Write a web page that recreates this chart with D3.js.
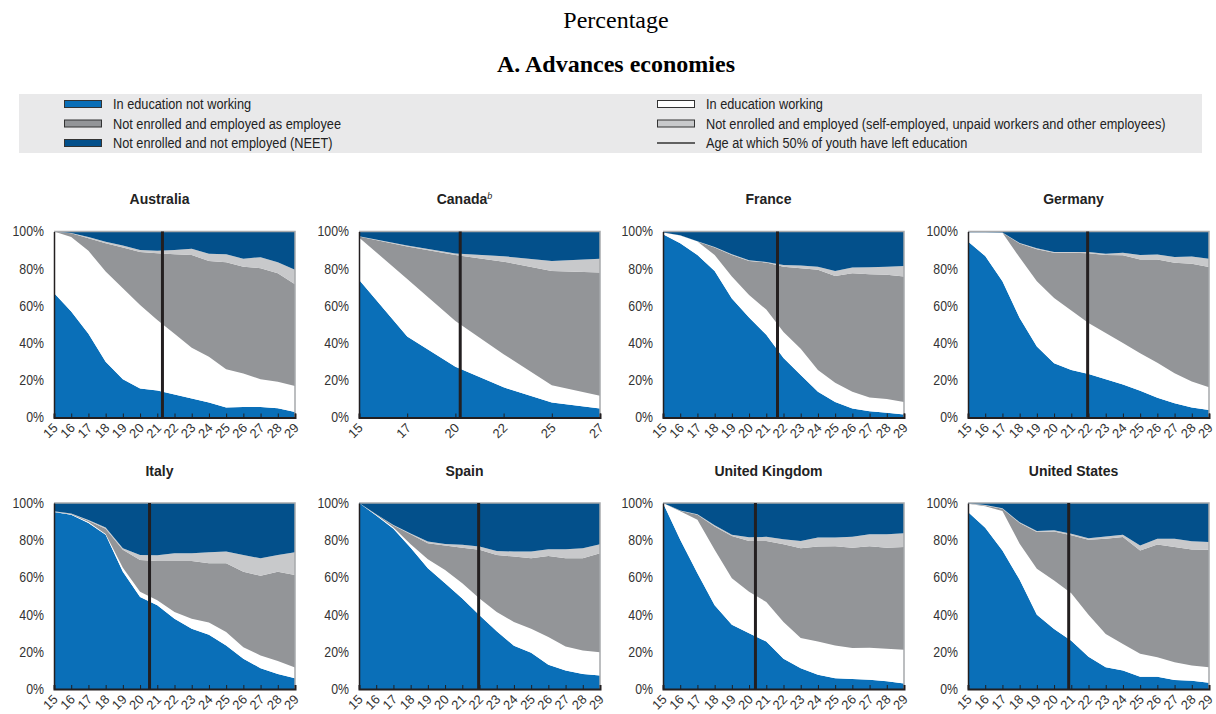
<!DOCTYPE html>
<html>
<head>
<meta charset="utf-8">
<script src="https://cdn.jsdelivr.net/npm/d3@7"></script>
<style>
  body { margin: 0; background: #fff; }
  svg { display: block; }
</style>
</head>
<body>
<div id="chart"></div>
<script>
// Ages shown on the x axis (Canada only has six age points)
const agesFull = [15, 16, 17, 18, 19, 20, 21, 22, 23, 24, 25, 26, 27, 28, 29];
const agesCanada = [15, 17, 20, 22, 25, 27];

const countries = ['Australia', 'Canada', 'France', 'Germany', 'Italy', 'Spain', 'United Kingdom', 'United States'];

// Age at which 50% of youth have left education
const halfLeftAge = [21.3, 20.2, 21.65, 21.95, 20.55, 21.95, 20.37, 20.85];

// Shares (%) by status, one row per country in the order above
const eduNotWorking = [
    [67, 57, 45, 30, 20.5, 15.6, 14.5, 12.4, 10.2, 8, 5.4, 5.7, 5.6, 5, 3],
    [74, 43.6, 27.3, 16.2, 8, 4.8],
    [98.5, 93.7, 87.4, 78.8, 64, 53.7, 44.5, 32, 22.8, 13.8, 8.4, 4.8, 3.4, 2.5, 1.6],
    [94.6, 86.8, 73.3, 53.5, 38.2, 29.2, 25.6, 23.4, 20.5, 17.8, 14.4, 10.6, 7.6, 5.4, 4],
    [95.1, 93.7, 89.2, 82.9, 63, 49.5, 45, 37.8, 32.4, 29.2, 23.4, 16.2, 11.2, 8.1, 5.8],
    [100, 93.3, 86.1, 76, 64.9, 56.8, 48.6, 39.6, 31, 23.2, 19.5, 13, 9.9, 8.1, 7.2],
    [100, 80.2, 62.2, 45, 34.6, 30, 25.5, 16.2, 11.2, 7.6, 5.8, 5.4, 5, 4.1, 3],
    [95.2, 86.7, 74.5, 58.7, 39.9, 32.3, 26, 17.4, 11.7, 9.9, 6.6, 6.6, 4.8, 4.5, 3.4]
];
const eduWorking = [
    [33, 40, 44.6, 48.5, 49, 44.9, 37.9, 32.6, 27.3, 24.7, 20.6, 18, 14.9, 14.2, 14],
    [22.8, 30.9, 24.6, 17.8, 9.4, 6.9],
    [1, 4.1, 7.2, 8.6, 11.8, 12.2, 13.5, 14, 14.2, 11.7, 10.3, 9, 7.4, 7.4, 6.8],
    [4.9, 12.7, 26, 32.5, 35.1, 35.1, 31.9, 27.4, 24.9, 22.2, 20.2, 18.9, 16.2, 13.9, 12.2],
    [0.2, 0.3, 0.6, 0.5, 2.2, 2.8, 2.7, 3.6, 5.4, 6.5, 7.2, 6.3, 6.8, 6.9, 5.7],
    [0, 0.4, 0.7, 1.8, 4.8, 7.2, 8.2, 9, 10.4, 12.8, 12.9, 14.9, 13, 12.6, 12.6],
    [0, 15.3, 28.8, 29.8, 24.9, 22.3, 21.3, 19.8, 16.2, 18, 17.6, 16.6, 17.2, 17.5, 18.1],
    [4.4, 11.5, 21.2, 19.4, 24.7, 26, 25.5, 22.5, 17.9, 14.3, 12.3, 10.5, 9.6, 8.1, 8.3]
];
const employee = [
    [0, 2, 6.8, 15.2, 21.9, 28.5, 35.9, 42.8, 49.9, 51.5, 57.5, 57.4, 59.8, 58.4, 54.6],
    [0.5, 17.5, 35.5, 49.8, 61.4, 66.2],
    [0, 0.2, 0, 4, 11.6, 18.3, 25.3, 35.1, 43.3, 53.9, 57.4, 63.8, 66.2, 66.8, 67.4],
    [0, 0, 0, 7.5, 17.2, 24.3, 31.1, 37.5, 42, 47.2, 50.4, 55.5, 59.4, 63.4, 64.7],
    [0.1, 0.2, 0.7, 2.7, 9.6, 17.1, 21.1, 27.4, 31, 31.9, 37, 40.5, 42.9, 48, 49.8],
    [0, 0.2, 1.1, 5.4, 8.7, 13.1, 19.2, 26.2, 30.7, 35.2, 37.9, 43.6, 47.4, 49.6, 53.2],
    [0, 0.4, 2.7, 12.6, 22.8, 27.3, 32.8, 41.8, 48.3, 51, 53.4, 54, 54.6, 54.4, 55.3],
    [0.1, 0.5, 1.2, 11.1, 19.8, 26.4, 31.1, 40.4, 51.2, 57.5, 55.6, 60.6, 61.9, 62.4, 63.2]
];
const otherEmployed = [
    [0, 0.2, 0.6, 0.8, 1.1, 1, 1.3, 2.3, 3.3, 3.8, 4.3, 4.2, 5.9, 5.9, 7.8],
    [0.2, 0.5, 0.8, 2.9, 5.4, 7.4],
    [0, 0, 0.1, 0.2, 0.4, 0.4, 0.3, 0.9, 1.4, 1.7, 2.7, 3, 3.8, 4.4, 5.7],
    [0.1, 0.1, 0.1, 0.3, 0.5, 0.4, 0.4, 0.7, 0.7, 1.4, 2.4, 2.6, 3.1, 3.8, 4.5],
    [0.1, 0.1, 0.3, 0.7, 0.9, 2.6, 3.1, 4.2, 4.2, 5.9, 6.3, 9, 9.4, 9, 12.2],
    [0, 0.1, 0.3, 0.4, 0.9, 0.9, 1.5, 1.8, 2.1, 2.7, 3.6, 3.6, 4.8, 5.4, 4.8],
    [0, 0.1, 0.3, 0.6, 0.6, 2, 2.2, 2.7, 3.9, 4.8, 4.6, 5.8, 6.4, 7.2, 7.4],
    [0.1, 0.2, 0.3, 0.4, 0.5, 0.6, 0.9, 0.8, 1.2, 1.2, 2.7, 3.1, 4.5, 4.4, 4.1]
];
const neet = [
    [0, 0.8, 3, 5.5, 7.5, 10, 10.4, 9.9, 9.3, 12, 12.2, 14.7, 13.8, 16.5, 20.6],
    [2.5, 7.5, 11.8, 13.3, 15.8, 14.7],
    [0.5, 2, 5.3, 8.4, 12.2, 15.4, 16.4, 18, 18.3, 18.9, 21.2, 19.4, 19.2, 18.9, 18.5],
    [0.4, 0.4, 0.6, 6.2, 9, 11, 11, 11, 11.9, 11.4, 12.6, 12.4, 13.7, 13.5, 14.6],
    [4.5, 5.7, 9.2, 13.2, 24.3, 28, 28.1, 27, 27, 26.5, 26.1, 28, 29.7, 28, 26.5],
    [0, 6, 11.8, 16.4, 20.7, 22, 22.5, 23.4, 25.8, 26.1, 26.1, 24.9, 24.9, 24.3, 22.2],
    [0, 4, 6, 12, 17.1, 18.4, 18.2, 19.5, 20.4, 18.6, 18.6, 18.2, 16.8, 16.8, 16.2],
    [0.2, 1.1, 2.8, 10.4, 15.1, 14.7, 16.5, 18.9, 18, 17.1, 22.8, 19.2, 19.2, 20.6, 21]
];

const yTicks = [0, 20, 40, 60, 80, 100];

const keys = ['eduNotWorking', 'eduWorking', 'employee', 'otherEmployed', 'neet'];
const colors = {
    eduNotWorking: '#0a6fb8',
    eduWorking: '#ffffff',
    employee: '#939598',
    otherEmployed: '#c8c9cb',
    neet: '#03508b'
};

const width = 1216, height = 714;
const svg = d3.select('#chart').append('svg')
    .attr('width', width)
    .attr('height', height);

const serif = '"Liberation Serif", "Times New Roman", serif';
const sans = '"Liberation Sans", Arial, sans-serif';

// Headings
svg.append('text')
    .attr('x', 616).attr('y', 28)
    .attr('text-anchor', 'middle')
    .style('font-family', serif)
    .style('font-size', '24px')
    .text('Percentage');

svg.append('text')
    .attr('x', 616).attr('y', 72)
    .attr('text-anchor', 'middle')
    .style('font-family', serif)
    .style('font-size', '24px')
    .style('font-weight', 'bold')
    .text('A. Advances economies');

// Legend
svg.append('rect')
    .attr('x', 19).attr('y', 94)
    .attr('width', 1183).attr('height', 59)
    .attr('fill', '#e9e9ea');

const legendItems = [
    { label: 'In education not working', key: 'eduNotWorking', col: 0, row: 0 },
    { label: 'Not enrolled and employed as employee', key: 'employee', col: 0, row: 1 },
    { label: 'Not enrolled and not employed (NEET)', key: 'neet', col: 0, row: 2 },
    { label: 'In education working', key: 'eduWorking', col: 1, row: 0 },
    { label: 'Not enrolled and employed (self-employed, unpaid workers and other employees)', key: 'otherEmployed', col: 1, row: 1 },
    { label: 'Age at which 50% of youth have left education', key: null, col: 1, row: 2 }
];
const legendColX = [64, 657];

legendItems.forEach(item => {
    const g = svg.append('g')
        .attr('transform', `translate(${legendColX[item.col]}, ${104 + item.row * 19.5})`);
    if (item.key) {
        g.append('rect')
            .attr('x', 0.5).attr('y', -3.5)
            .attr('width', 37).attr('height', 7)
            .attr('fill', colors[item.key])
            .attr('stroke', '#333')
            .attr('stroke-width', 1);
    } else {
        g.append('line')
            .attr('x1', 0).attr('x2', 38)
            .attr('y1', 0).attr('y2', 0)
            .attr('stroke', '#333')
            .attr('stroke-width', 1.5);
    }
    // narrow face is not installed, so squeeze the text horizontally
    g.append('text')
        .attr('transform', 'translate(49, 5) scale(0.85, 1)')
        .style('font-family', sans)
        .style('font-size', '15px')
        .style('fill', '#222')
        .text(item.label);
});

// Panels
const plotLefts = [54, 359, 663, 968];
const plotW = 241;
const rowTops = [231.5, 503];
const plotH = 186;

countries.forEach((country, ci) => {
    const col = ci % 4, row = Math.floor(ci / 4);
    const ages = country === 'Canada' ? agesCanada : agesFull;
    const left = plotLefts[col], top = rowTops[row];

    const g = svg.append('g').attr('transform', `translate(${left}, ${top})`);

    const step = plotW / (ages.length - 1);
    // polylinear scale: ages are drawn as evenly spaced categories
    const x = d3.scaleLinear()
        .domain(ages)
        .range(ages.map((a, i) => i * step));
    const y = d3.scaleLinear().domain([0, 100]).range([plotH, 0]);

    const rows = ages.map((age, i) => ({
        age,
        eduNotWorking: eduNotWorking[ci][i],
        eduWorking: eduWorking[ci][i],
        employee: employee[ci][i],
        otherEmployed: otherEmployed[ci][i],
        neet: neet[ci][i]
    }));

    const series = d3.stack().keys(keys)(rows);

    const area = d3.area()
        .x(d => x(d.data.age))
        .y0(d => y(d[0]))
        .y1(d => y(d[1]));

    g.selectAll('path.band')
        .data(series)
        .join('path')
        .attr('class', 'band')
        .attr('fill', d => colors[d.key])
        .attr('d', area);

    // top and right frame
    g.append('path')
        .attr('d', `M0,0H${plotW}V${plotH}`)
        .attr('fill', 'none')
        .attr('stroke', '#a7a9ac')
        .attr('stroke-width', 1.5);

    // y axis
    const yAxis = g.append('g')
        .call(d3.axisLeft(y).tickValues(yTicks).tickSize(0).tickPadding(0).tickFormat(d => d + '%'));
    yAxis.select('.domain').attr('stroke', '#231f20').attr('stroke-width', 1.5);
    yAxis.selectAll('text')
        .attr('x', 0)
        .attr('transform', 'translate(-10, 0) scale(0.88, 1)')
        .style('font-family', sans)
        .style('font-size', '14px')
        .style('fill', '#333');

    // x axis with inward ticks and rotated labels
    const xAxis = g.append('g')
        .attr('transform', `translate(0, ${plotH})`)
        .call(d3.axisBottom(x).tickValues(ages).tickSize(-4).tickPadding(0).tickFormat(d3.format('d')));
    xAxis.select('.domain').attr('stroke', '#231f20').attr('stroke-width', 2);
    xAxis.selectAll('.tick line').attr('stroke', '#231f20').attr('stroke-width', 1);
    xAxis.selectAll('text')
        .attr('x', 0)
        .attr('y', 0)
        .attr('dy', '0.35em')
        .attr('text-anchor', 'end')
        .attr('transform', 'translate(1, 8) rotate(-45)')
        .style('font-family', sans)
        .style('font-size', '13px')
        .style('fill', '#333');

    // age at which half have left education
    g.append('line')
        .attr('x1', x(halfLeftAge[ci])).attr('x2', x(halfLeftAge[ci]))
        .attr('y1', 0).attr('y2', plotH)
        .attr('stroke', '#231f20')
        .attr('stroke-width', 3);

    // panel title
    const title = svg.append('text')
        .attr('x', left + plotW / 2 - 15)
        .attr('y', row === 0 ? 204 : 476)
        .attr('text-anchor', 'middle')
        .style('font-family', sans)
        .style('font-size', '14px')
        .style('font-weight', 'bold')
        .style('fill', '#222')
        .text(country);
    if (country === 'Canada') {
        title.append('tspan')
            .attr('dy', -5)
            .style('font-size', '9px')
            .style('font-style', 'italic')
            .style('font-weight', 'normal')
            .text('b');
    }
});
</script>
</body>
</html>
